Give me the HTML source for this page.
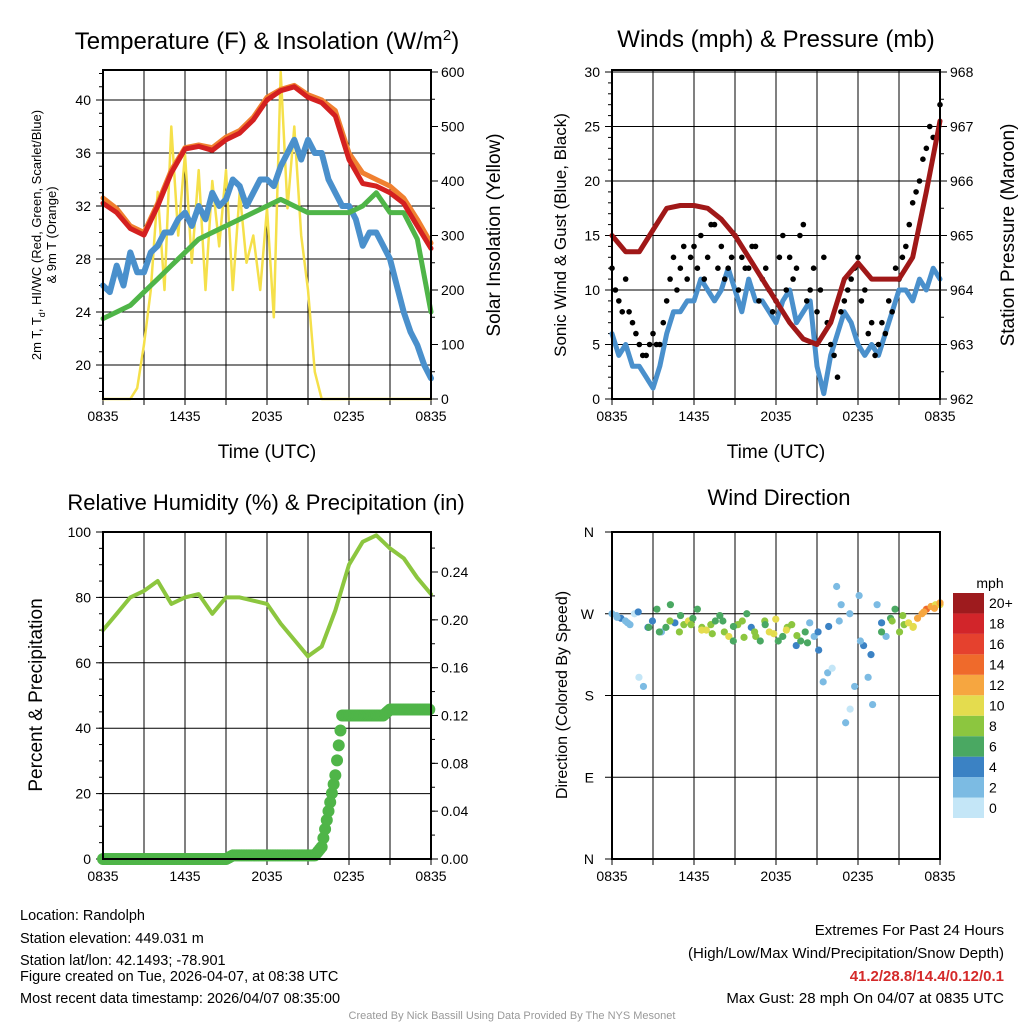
<!DOCTYPE html>
<html><head><meta charset="utf-8">
<style>
body{margin:0;background:#fff;width:1024px;height:1024px;overflow:hidden;font-family:"Liberation Sans",Arial,sans-serif}
svg text{font-family:"Liberation Sans",Arial,sans-serif}
</style></head>
<body>
<svg id="svg" width="1024" height="1024" viewBox="0 0 1024 1024" xmlns="http://www.w3.org/2000/svg">
<g id="p1"></g>
<g id="p2"></g>
<g id="p3"></g>
<g id="p4"></g>
<g id="txt">
<text x="20" y="920" font-size="14.5">Location: Randolph</text>
<text x="20" y="943" font-size="14.5">Station elevation: 449.031 m</text>
<text x="20" y="965" font-size="14.5">Station lat/lon: 42.1493; -78.901</text>
<text x="20" y="981" font-size="14.5">Figure created on Tue, 2026-04-07, at 08:38 UTC</text>
<text x="20" y="1003" font-size="14.5">Most recent data timestamp: 2026/04/07 08:35:00</text>
<text x="1004" y="935" font-size="15" text-anchor="end">Extremes For Past 24 Hours</text>
<text x="1004" y="958" font-size="15" text-anchor="end">(High/Low/Max Wind/Precipitation/Snow Depth)</text>
<text x="1004" y="981" font-size="15" text-anchor="end" font-weight="bold" fill="#d42a2a">41.2/28.8/14.4/0.12/0.1</text>
<text x="1004" y="1003" font-size="15" text-anchor="end">Max Gust: 28 mph On 04/07 at 0835 UTC</text>
<text x="512" y="1019" font-size="11" text-anchor="middle" fill="#999">Created By Nick Bassill Using Data Provided By The NYS Mesonet</text>
</g>
</svg>
<script>
// ---- data (evenly spaced from 0835 UTC) ----
const xTickLabels=["0835","1435","2035","0235","0835"];
const tempRed=[32.2,31.5,30.3,29.8,32,34.5,36.3,36.5,36.2,37,37.5,38.5,40,40.7,41,40.2,39.8,38.8,35.5,33.7,33.5,33,32.2,30.5,28.8];
const tempOrange=[32.6,31.8,30.5,30,32.2,34.7,36.4,36.6,36.4,37.2,37.7,38.7,40.2,40.8,41.1,40.4,40,39.2,36,34.5,34,33.5,32.6,31,29.2];
const dewGreen=[23.5,24,24.5,25.5,26.5,27.5,28.5,29.5,30,30.5,31,31.5,32,32.5,32,31.5,31.5,31.5,31.5,32,33,31.5,31.5,29.5,24];
const windChill=[26,25.5,27.5,26,28.5,27,27,28.5,29,30,30,31,31.5,30.5,32,31,33,32,32.5,34,33.5,32,33,34,34,33.5,35,36,37,35.5,37,36,36,34,33,32,32,31,29,30,30,29,28,26,24,22.5,21.5,20,19];
const insolation=[0,0,0,0,0,20,100,200,380,200,500,300,450,250,420,200,400,280,420,200,380,250,300,200,350,150,600,350,500,300,200,50,0,0,0,0,0,0,0,0,0,0,0,0,0,0,0,0,0];
const pressure=[965,964.7,964.7,965.1,965.5,965.55,965.55,965.5,965.3,965.0,964.6,964.2,963.8,963.4,963.1,963.0,963.4,964.2,964.5,964.2,964.2,964.2,964.6,965.8,967.1];
const sonicWind=[6,4,5,3,3,2,1,3,6,8,8,9,9,11,10,9,10,12,10,8,11,9,9,8,7,9,10,7,8,9,3,0.5,4,6,8,7,5,4,5,4,6,8,10,10,9,11,10,12,11];
const gustA=[12,9,11,7,5,4,6,5,9,13,12,11,14,15,13,16,14,12,15,13,12,14,11,10,9,15,13,12,16,10,8,13,5,2,9,11,13,10,7,5,6,8,11,14,18,20,23,24,27];
const gustB=[10,8,8,6,4,5,5,7,11,10,14,13,12,11,16,12,11,13,10,12,14,9,12,8,13,10,11,15,9,12,10,7,4,8,10,12,9,6,4,7,9,12,13,16,19,22,25,24];
const relHum=[70,75,80,82,85,78,80,81,75,80,80,79,78,72,67,62,65,76,90,97,99,95,92,86,81];
const precip=[0,0,0,0,0,0,0,0,0,0,0,0,0,0,0,0,0,0,0,0.003,0.003,0.003,0.003,0.003,0.003,0.003,0.003,0.003,0.003,0.003,0.003,0.003,0.01,0.04,0.07,0.12,0.12,0.12,0.12,0.12,0.12,0.12,0.125,0.125,0.125,0.125,0.125,0.125,0.125];
const windDir=[270,268,265,262,258,270,200,190,255,262,275,250,255,280,260,250,258,262,265,275,255,252,258,262,268,250,245,240,258,262,270,255,245,240,262,250,248,240,245,255,258,235,240,250,260,245,230,195,205,210,300,280,150,165,190,290,235,200,170,280,260,245,265,275,250,258,260,255,265,270,275,278,280,280];
const windSpd=[3,2,4,3,2,1,1,2,4,5,6,3,7,6,5,9,8,10,7,6,8,11,9,7,6,8,10,7,9,8,6,5,9,7,8,10,11,6,7,8,9,5,6,7,3,2,4,3,2,1,2,3,2,1,3,2,4,2,3,2,5,3,6,7,8,9,10,11,12,13,14,12,11,10];
const windDir2=[266,260,272,255,250,262,268,258,252,248,262,256,244,250,258,264,252,246,238,250,256,262,270,240,225,250,262,268,256,272,276,282];
const windSpd2=[2,3,4,6,7,8,6,9,10,8,7,6,9,8,7,10,11,8,7,5,4,3,2,3,4,6,8,9,10,12,13,12];
const speedBins=["0","2","4","6","8","10","12","14","16","18","20+"];
const speedColors=["#c4e6f7","#7cbbe3","#3b82c4","#4aa862","#8cc63f","#e4dc4e","#f6a640","#ef6a2b","#e5412e","#d2252a","#9e1b1e"];

const NS="http://www.w3.org/2000/svg";
function mk(parent,tag,attrs){const e=document.createElementNS(NS,tag);for(const k in attrs)e.setAttribute(k,attrs[k]);parent.appendChild(e);return e;}
function txt(parent,x,y,s,size,anchor,extra){const e=mk(parent,'text',Object.assign({x:x,y:y,'font-size':size,'text-anchor':anchor||'middle'},extra||{}));e.textContent=s;return e;}

function frame(g,L,T,R,B){
  for(let i=1;i<8;i++){const x=L+(R-L)*i/8;const l=mk(g,'line',{x1:x,y1:T,x2:x,y2:B,stroke:'#000','stroke-width':1});
    
    mk(g,'line',{x1:x,y1:B,x2:x,y2:B+6,stroke:'#000','stroke-width':1});}
  for(let i=0;i<5;i++){const x=L+(R-L)*i/4;mk(g,'line',{x1:x,y1:B,x2:x,y2:B+6,stroke:'#000','stroke-width':1});
    const t=txt(g,x,B+22,xTickLabels[i],14);}
}
function border(g,L,T,R,B){const r=mk(g,'rect',{x:L,y:T,width:R-L,height:B-T,fill:'none',stroke:'#000','stroke-width':2});}
function yAxis(g,L,R,T,B,vals,ys,side,minor,grid,fmt){
  vals.forEach((v,i)=>{const y=ys(v);
    if(grid){const l=mk(g,'line',{x1:L,y1:y,x2:R,y2:y,stroke:'#000','stroke-width':1});}
    const x=side==='l'?L:R;const d=side==='l'?-7:7;
    mk(g,'line',{x1:x,y1:y,x2:x+d,y2:y,stroke:'#000','stroke-width':1});
    const t=txt(g,side==='l'?L-12:R+10,y+5,fmt?fmt(v):String(v),14,side==='l'?'end':'start');
    });
  minor.forEach(v=>{const y=ys(v);if(y<T-0.5||y>B+0.5)return;const x=side==='l'?L:R;const d=side==='l'?-4:4;mk(g,'line',{x1:x,y1:y,x2:x+d,y2:y,stroke:'#000','stroke-width':1});});
}
function poly(g,arr,xs,ys,color,w,name){
  const n=arr.length;const pts=arr.map((v,i)=>xs(i*24/(n-1)).toFixed(1)+','+ys(v).toFixed(1)).join(' ');
  const p=mk(g,'polyline',{points:pts,fill:'none',stroke:color,'stroke-width':w,'stroke-linejoin':'round','stroke-linecap':'round'});
  return p;}

// ---- Panel 1 ----
(function(){const g=document.getElementById('p1');const L=103,R=431,T=70,B=399;
 const xs=h=>L+(R-L)*h/24;const ys=v=>365-(v-20)*13.25;const ys2=v=>399-v*327/600;
 frame(g,L,T,R,B);
 const mn=[];for(let v=18;v<=42;v++)mn.push(v);
 yAxis(g,L,R,T,B,[20,24,28,32,36,40],ys,'l',mn,true);
 const mn2=[];for(let v=0;v<=600;v+=50)mn2.push(v);
 yAxis(g,L,R,T,B,[0,100,200,300,400,500,600],ys2,'r',mn2,false);
 poly(g,insolation,xs,ys2,'#f5e04a',2.5,'insolation-line');
 poly(g,windChill,xs,ys,'#4a90cc',6,'windchill-line');
 poly(g,dewGreen,xs,ys,'#4fb548',5,'dewpoint-line');
 poly(g,tempOrange,xs,ys,'#f08030',5,'9m-temp-line');
 poly(g,tempRed,xs,ys,'#d42020',5,'2m-temp-line');
 border(g,L,T,R,B);
 let t=txt(g,267,49,'',24);t.innerHTML='Temperature (F) &amp; Insolation (W/m<tspan dy="-9" font-size="15">2</tspan><tspan dy="9">)</tspan>';
 t=txt(g,267,458,'Time (UTC)',19);
 t=txt(g,0,0,'',13,'middle',{transform:'translate(41,235) rotate(-90)'});t.innerHTML='2m T, T<tspan dy="4" font-size="9">d</tspan><tspan dy="-4">, HI/WC (Red, Green, Scarlet/Blue)</tspan>';
 t=txt(g,0,0,'& 9m T (Orange)',13,'middle',{transform:'translate(56,235) rotate(-90)'});
 t=txt(g,0,0,'Solar Insolation (Yellow)',19,'middle',{transform:'translate(500,235) rotate(-90)'});
})();

// ---- Panel 2 ----
(function(){const g=document.getElementById('p2');const L=612,R=940,T=70,B=399;
 const xs=h=>L+(R-L)*h/24;const ys=v=>B-v*(B-72)/30;const ys2=v=>B-(v-962)*(B-72)/6;
 frame(g,L,T,R,B);
 const mn=[];for(let v=0;v<=30;v++)mn.push(v);
 yAxis(g,L,R,T,B,[0,5,10,15,20,25,30],ys,'l',mn,true);
 const mn2=[];for(let v=962;v<=968;v+=0.5)mn2.push(v);
 yAxis(g,L,R,T,B,[962,963,964,965,966,967,968],ys2,'r',mn2,false);
 poly(g,sonicWind,xs,ys,'#4a90cc',5,'sonic-wind-line');
 [gustA,gustB].forEach((arr,k)=>{const n=arr.length;arr.forEach((v,i)=>{const h=k===0?i*24/(n-1):(i+0.5)*24/(n);
   const c=mk(g,'circle',{cx:xs(h),cy:ys(v),r:2.8,fill:'#000'});});});
 poly(g,pressure,xs,ys2,'#a01818',5,'pressure-line');
 border(g,L,T,R,B);
 let t=txt(g,776,47,'Winds (mph) & Pressure (mb)',24);
 t=txt(g,776,458,'Time (UTC)',19);
 t=txt(g,0,0,'Sonic Wind & Gust (Blue, Black)',17,'middle',{transform:'translate(566,235) rotate(-90)'});
 t=txt(g,0,0,'Station Pressure (Maroon)',19,'middle',{transform:'translate(1014,235) rotate(-90)'});
})();

// ---- Panel 3 ----
(function(){const g=document.getElementById('p3');const L=103,R=431,T=532,B=859;
 const xs=h=>L+(R-L)*h/24;const ys=v=>B-v*(B-T)/100;const ys2=v=>B-v*(B-572)/0.24;
 frame(g,L,T,R,B);
 const mn=[];for(let v=0;v<=100;v+=5)mn.push(v);
 yAxis(g,L,R,T,B,[0,20,40,60,80,100],ys,'l',mn,true);
 const mn2=[];for(let v=0;v<=0.27;v+=0.02)mn2.push(v);
 yAxis(g,L,R,T,B,[0,0.04,0.08,0.12,0.16,0.2,0.24],ys2,'r',mn2,false,v=>v.toFixed(2));
 poly(g,relHum,xs,ys,'#8cc63f',4,'humidity-line');
 const n=precip.length;
 for(let i=0;i<n-1;i++){for(let s=0;s<4;s++){const h=(i+s/4)*24/(n-1);const v=precip[i]+(precip[i+1]-precip[i])*s/4;
   const c=mk(g,'circle',{cx:xs(h),cy:ys2(v),r:6,fill:'#4fb548'});}}
 border(g,L,T,R,B);
 let t=txt(g,266,510,'Relative Humidity (%) & Precipitation (in)',22);
 t=txt(g,0,0,'Percent & Precipitation',19,'middle',{transform:'translate(42,695) rotate(-90)'});
})();

// ---- Panel 4 ----
(function(){const g=document.getElementById('p4');const L=612,R=940,T=532,B=859;
 const xs=h=>L+(R-L)*h/24;const ys=d=>B-d*(B-T)/360;
 frame(g,L,T,R,B);
 const labs=["N","E","S","W","N"];
 [0,90,180,270,360].forEach((d,i)=>{const y=ys(d);mk(g,'line',{x1:L,y1:y,x2:R,y2:y,stroke:'#000','stroke-width':1});
   mk(g,'line',{x1:L,y1:y,x2:L-7,y2:y,stroke:'#000'});
   const t=txt(g,L-18,y+5,labs[i],14,'end');});
 [[windDir,windSpd,0],[windDir2,windSpd2,0.37]].forEach(([dirs,spds,off])=>{
 const n=Math.min(dirs.length,spds.length);
 for(let i=0;i<n;i++){const h=Math.min(24,off+i*24/(n-1));const bin=Math.min(10,Math.floor(spds[i]/2));
   const c=mk(g,'circle',{cx:xs(h),cy:ys(dirs[i]),r:3.6,fill:speedColors[bin]});}});
 border(g,L,T,R,B);
 let t=txt(g,779,505,'Wind Direction',22);
 t=txt(g,0,0,'Direction (Colored By Speed)',16,'middle',{transform:'translate(567,695) rotate(-90)'});
 const cb=mk(g,'g',{});
 const cT=593,cB=818,h=(cB-cT)/speedBins.length;
 t=txt(cb,990,588,'mph',14,'middle');
 speedBins.forEach((s,i)=>{const y=cB-(i+1)*h;
   const r=mk(cb,'rect',{x:953,y:y,width:31,height:h,fill:speedColors[i]});
   const tt=txt(cb,989,y+h/2+5,s,14,'start');});
})();
</script>
</body></html>
